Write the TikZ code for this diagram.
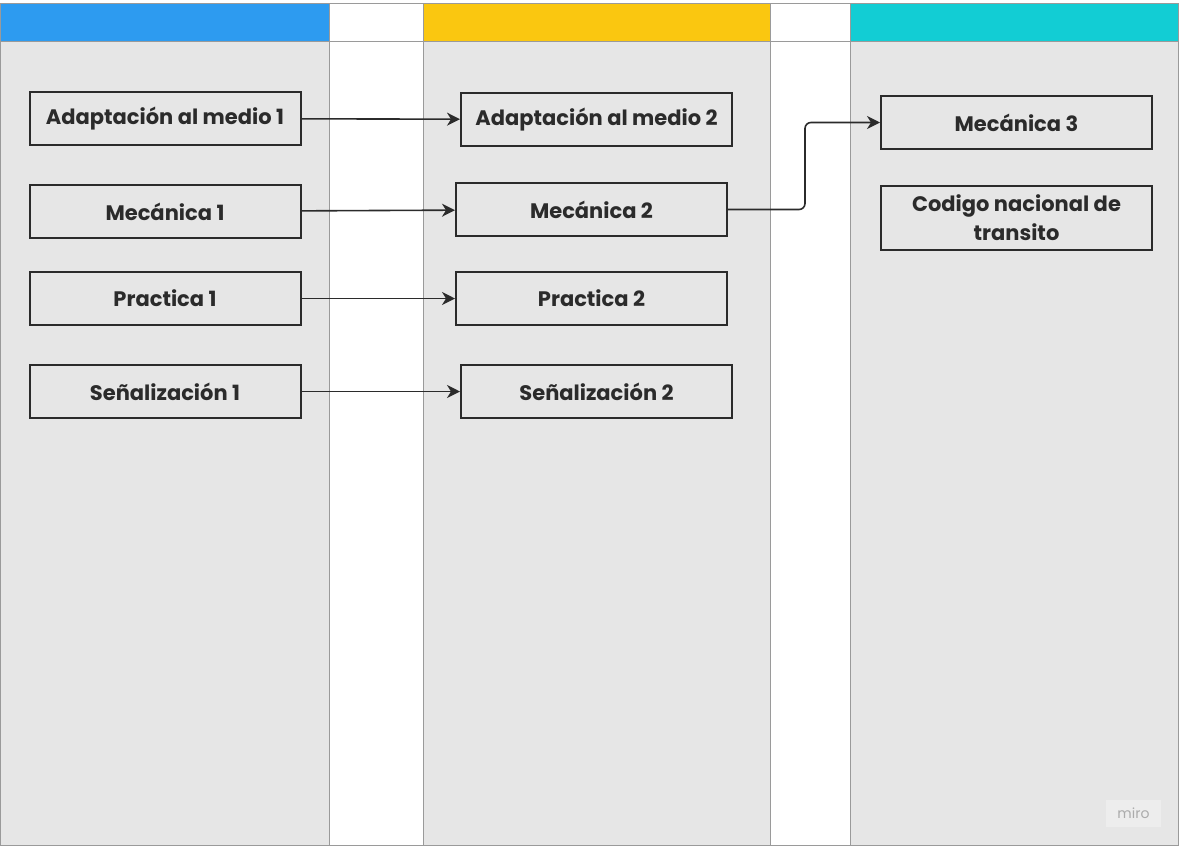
\documentclass[tikz,border=0pt]{standalone}
\usepackage{fontspec}
\setmainfont{Poppins}
\usetikzlibrary{arrows.meta}
\definecolor{lanegrey}{HTML}{E6E6E6}
\definecolor{framegrey}{HTML}{9A9A9A}
\definecolor{inkgrey}{HTML}{2B2B2B}
\definecolor{miroblue}{HTML}{2D9BF0}
\definecolor{miroyellow}{HTML}{FAC710}
\definecolor{mirocyan}{HTML}{12CDD4}
\definecolor{logofill}{HTML}{EDEDED}
\definecolor{logotext}{HTML}{ABABAB}
\tikzset{
  box/.style={draw=inkgrey, line width=2pt, minimum width=271pt, minimum height=53pt,
    inner sep=2pt, align=center, text=inkgrey, font=\bfseries\fontsize{21}{29}\selectfont},
  link/.style={-{Stealth[length=13pt,width=13pt,inset=4pt]}, line width=1.6pt, draw=inkgrey},
  frame/.style={draw=framegrey, line width=1pt}
}
\begin{document}
\begin{tikzpicture}[x=1pt,y=-1pt]
\useasboundingbox (0,0) rectangle (1179,847);
\fill[white] (0,0) rectangle (1179,847);
% lanes
\fill[lanegrey] (0,41) rectangle (329,845);
\fill[lanegrey] (423,41) rectangle (770,845);
\fill[lanegrey] (850,41) rectangle (1179,845);
\fill[miroblue] (0,3) rectangle (329,41);
\fill[miroyellow] (423,3) rectangle (770,41);
\fill[mirocyan] (850,3) rectangle (1179,41);
\draw[frame] (0.5,3) rectangle (1178.5,845);
\draw[frame] (0.5,41) -- (1178.5,41);
\foreach \xx in {329,423,770,850}
  \draw[frame] (\xx,3) -- (\xx,845);

% first lane
\node[box] (a1) at (165,118.5) {Adaptación al medio 1};
\node[box] (m1) at (165,211.5) {Mecánica 1};
\node[box] (p1) at (165,298.5) {Practica 1};
\node[box] (s1) at (165,391.5) {Señalización 1};
% second lane
\node[box] (a2) at (596.5,119.5) {Adaptación al medio 2};
\node[box] (m2) at (591.5,209.5) {Mecánica 2};
\node[box] (p2) at (591.5,298.5) {Practica 2};
\node[box] (s2) at (596.5,391.5) {Señalización 2};
% third lane
\node[box] (m3) at (1016.5,122.5) {Mecánica 3};
\node[box, minimum height=64pt] (cnt) at (1016.5,218) {Codigo nacional de\\transito};

\draw[link] (a1) -- (a2);
\draw[link] (m1) -- (m2);
\draw[link] (p1) -- (p2);
\draw[link] (s1) -- (s2);
\draw[link, rounded corners=6pt] (m2.east) -- ++(77,0) |- (m3.west);

\node[fill=logofill, text=logotext, minimum width=55pt, minimum height=27pt,
  font=\fontsize{14}{16}\selectfont] (logo) at (1133.5,813.5) {miro};
\end{tikzpicture}
\end{document}
